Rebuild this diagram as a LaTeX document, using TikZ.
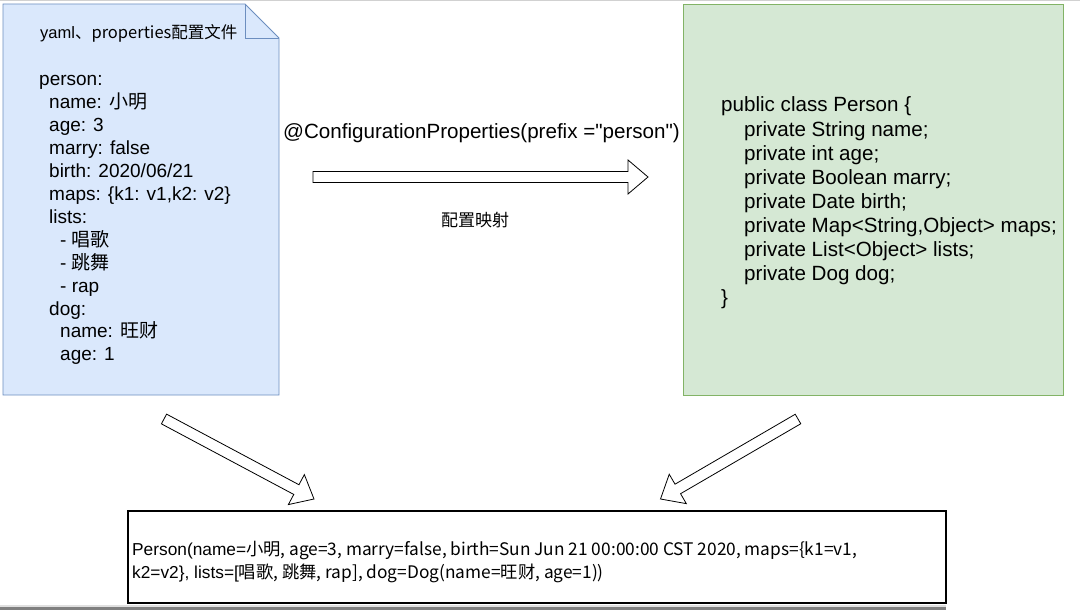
\documentclass[tikz,border=0pt]{standalone}
\usepackage{fontspec}
\setmainfont{Liberation Sans}[Ligatures=TeXOff]
\newfontfamily\cjk{Noto Sans CJK SC}
\usetikzlibrary{calc}

\definecolor{yamlfill}{HTML}{DAE8FC}
\definecolor{yamlline}{HTML}{6C8EBF}
\definecolor{javafill}{HTML}{D5E8D4}
\definecolor{javaline}{HTML}{82B366}

% hollow block arrow from #1 (tail) to #2 (tip)
\newcommand\fatarrow[2]{%
  \coordinate (fa-base) at ($(#2)!20pt!(#1)$);
  \draw[fat arrow] ($(#1)!5.5pt!90:(#2)$) -- ($(fa-base)!5.5pt!90:(#2)$)
    -- ($(fa-base)!17pt!90:(#2)$) -- (#2) -- ($(fa-base)!17pt!-90:(#2)$)
    -- ($(fa-base)!5.5pt!-90:(#2)$) -- ($(#1)!5.5pt!-90:(#2)$) -- cycle;}

\begin{document}
\begin{tikzpicture}[x=1pt, y=-1pt,
    fat arrow/.style={draw, fill=white, line width=0.8pt, line join=miter},
    yamltext/.style={anchor=base west, inner sep=0pt, font=\fontsize{19}{23}\selectfont},
    javatext/.style={anchor=base west, inner sep=0pt, font=\fontsize{20.6}{24}\selectfont}]
    \useasboundingbox (0,0) rectangle (1080,610);

    % screenshot edges
    \fill[black!18] (0,0) rectangle (1080,1.5);
    \fill[black!50] (0,606.5) rectangle (946,610);
    \fill[black!12] (0,605) rectangle (946,606.5);

    % yaml document
    \draw[fill=yamlfill, draw=yamlline, line width=0.9pt]
        (3,4) -- (245,4) -- (279,38) -- (279,395) -- (3,395) -- cycle;
    \draw[yamlline, line width=0.9pt] (245,4) -- (245,38) -- (279,38);
    \node[anchor=base west, inner sep=0pt, font=\fontsize{16.5}{20}\selectfont]
        (yamlTitle) at (40,39) {yaml\cjk{、}properties\cjk{配置文件}};
    \foreach \ln [count=\i from 0] in {person:,
        \hspace{10pt}name: \cjk{小明},
        \hspace{10pt}age: 3,
        \hspace{10pt}marry: false,
        \hspace{10pt}birth: 2020/06/21,
        {\hspace{10pt}maps: \{k1: v1,k2: v2\}},
        \hspace{10pt}lists:,
        \hspace{21pt}- \cjk{唱歌},
        \hspace{21pt}- \cjk{跳舞},
        \hspace{21pt}- rap,
        \hspace{10pt}dog:,
        \hspace{21pt}name: \cjk{旺财},
        \hspace{21pt}age: 1}
        \node[yamltext] (yaml-\i) at (39,86+\i*22.9) {\ln};

    % java class
    \draw[fill=javafill, draw=javaline, line width=0.9pt] (683,4) rectangle (1063,395);
    \foreach \ln [count=\i from 0] in {public class Person \{,
        \hspace{23pt}private String name;,
        \hspace{23pt}private int age;,
        \hspace{23pt}private Boolean marry;,
        \hspace{23pt}private Date birth;,
        {\hspace{23pt}private Map<String,Object> maps;},
        \hspace{23pt}private List<Object> lists;,
        \hspace{23pt}private Dog dog;,
        \}}
        \node[javatext] (java-\i) at (721,112+\i*24) {\ln};

    % mapping arrow
    \node[anchor=base, inner sep=0pt, font=\fontsize{20.6}{24}\selectfont]
        (anno) at (481.5,139) {@ConfigurationProperties(prefix ="person")};
    \node[inner sep=0pt, font=\fontsize{17}{20}\selectfont\cjk] (mapLabel) at (475,220) {配置映射};
    \coordinate (mapTail) at (313,177);
    \coordinate (mapTip) at (648,177);
    \fatarrow{mapTail}{mapTip}

    % result
    \draw[line width=1.1pt] (128,511) rectangle (946,603);
    \node[anchor=base west, inner sep=0pt, align=left, font=\fontsize{17.3}{23}\selectfont]
        (result) at (132,578) {Person(name=\cjk{小明}, age=3, marry=false, birth=Sun Jun 21 00:00:00 CST 2020, maps=\{k1=v1,\\
        k2=v2\}, lists=[\cjk{唱歌}, \cjk{跳舞}, rap], dog=Dog(name=\cjk{旺财}, age=1))};

    \coordinate (yamlOut) at (164,419);
    \coordinate (resultInL) at (314,499);
    \coordinate (javaOut) at (798,419);
    \coordinate (resultInR) at (660.5,499);
    \fatarrow{yamlOut}{resultInL}
    \fatarrow{javaOut}{resultInR}
\end{tikzpicture}
\end{document}
